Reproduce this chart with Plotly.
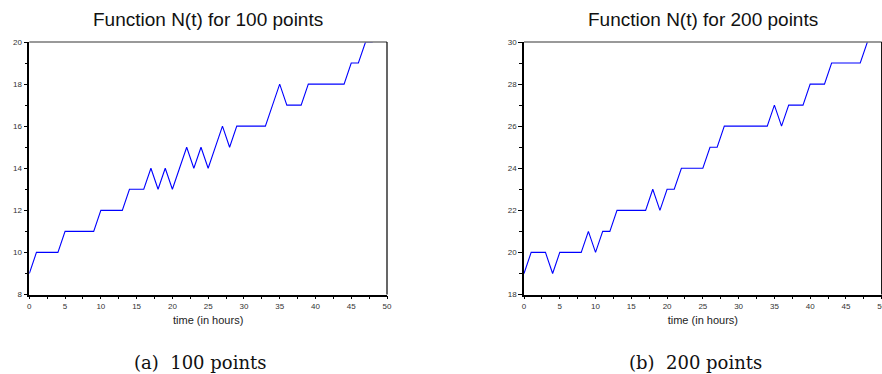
import plotly.graph_objects as go

# Data
t_a = list(range(0, 49))
n_a = [9, 10, 10, 10, 10, 11, 11, 11, 11, 11, 12, 12, 12, 12, 13, 13, 13, 14, 13, 14,
       13, 14, 15, 14, 15, 14, 15, 16, 15, 16, 16, 16, 16, 16, 17, 18, 17, 17, 17, 18,
       18, 18, 18, 18, 18, 19, 19, 20, 20]
t_b = list(range(0, 49))
n_b = [19, 20, 20, 20, 19, 20, 20, 20, 20, 21, 20, 21, 21, 22, 22, 22, 22, 22, 23, 22,
       23, 23, 24, 24, 24, 24, 25, 25, 26, 26, 26, 26, 26, 26, 26, 27, 26, 27, 27, 27,
       28, 28, 28, 29, 29, 29, 29, 29, 30]

titles = ["Function N(t) for 100 points", "Function N(t) for 200 points"]
captions = ["(a)  100 points", "(b)  200 points"]
x_label = "time (in hours)"
x_ticks = [0, 5, 10, 15, 20, 25, 30, 35, 40, 45, 50]
y_ticks_a = [8, 10, 12, 14, 16, 18, 20]
y_ticks_b = [18, 20, 22, 24, 26, 28, 30]

W, H = 882, 374
fig = go.Figure()
fig.add_trace(go.Scatter(x=t_a, y=n_a, mode="lines", line=dict(color="#0000ff", width=1.1),
                         xaxis="x", yaxis="y", showlegend=False))
fig.add_trace(go.Scatter(x=t_b, y=n_b, mode="lines", line=dict(color="#0000ff", width=1.1),
                         xaxis="x2", yaxis="y2", showlegend=False))

ydom = [1 - 294.5 / H, 1 - 42 / H]
xdom_a = [29.3 / W, 387 / W]
xdom_b = [524 / W, 881.7 / W]

tickfont = dict(family="Liberation Sans, Arial, sans-serif", size=8, color="#333333")
titlefont = dict(family="Liberation Sans, Arial, sans-serif", size=11, color="#222222")

def xax(dom, anchor):
    return dict(domain=dom, anchor=anchor, range=[0, 50], tickvals=x_ticks,
                ticks="outside", ticklen=3, tickwidth=1, tickcolor="black",
                minor=dict(dtick=2.5, tick0=0, ticks="outside", ticklen=3, tickcolor="black", showgrid=False),
                showline=True, linecolor="black", linewidth=1.5, showgrid=False, zeroline=False,
                tickfont=tickfont, ticklabeloverflow="allow",
                title=dict(text=x_label, font=titlefont, standoff=6),
                automargin=False, fixedrange=True)

def yax(dom, anchor, rng, ticks):
    return dict(domain=dom, anchor=anchor, range=rng, tickvals=ticks,
                ticks="outside", ticklen=4, tickwidth=1, tickcolor="black",
                minor=dict(dtick=1, tick0=0, ticks="outside", ticklen=3, tickcolor="black", showgrid=False),
                showline=True, linecolor="black", linewidth=1.5, showgrid=False, zeroline=False,
                tickfont=tickfont, automargin=False, fixedrange=True)

fig.update_layout(
    width=W, height=H, margin=dict(l=0, r=0, t=0, b=0),
    paper_bgcolor="white", plot_bgcolor="white",
    xaxis=xax(xdom_a, "y"), yaxis=yax(ydom, "x", [8, 20], y_ticks_a),
    xaxis2=xax(xdom_b, "y2"), yaxis2=yax(ydom, "x2", [18, 30], y_ticks_b),
)

shapes = []
for xr, yr in [("x", "y"), ("x2", "y2")]:
    shapes.append(dict(type="line", xref=xr + " domain", yref=yr + " domain", x0=0, x1=1, y0=1, y1=1,
                       line=dict(color="#777777", width=1.5)))
    shapes.append(dict(type="line", xref=xr + " domain", yref=yr + " domain", x0=1, x1=1, y0=0, y1=1,
                       line=dict(color="black", width=1.2)))
fig.update_layout(shapes=shapes)

annos = []
for i, dom in enumerate([xdom_a, xdom_b]):
    annos.append(dict(text=titles[i], xref="paper", yref="paper", x=(dom[0] + dom[1]) / 2,
                      y=1 - 20 / H, xanchor="center", yanchor="middle", showarrow=False,
                      font=dict(family="Liberation Sans, Arial, sans-serif", size=19, color="#111111")))
cap_x = [200 / W, 695 / W]
for i in range(2):
    annos.append(dict(text=captions[i], xref="paper", yref="paper", x=cap_x[i],
                      y=1 - 362 / H, xanchor="center", yanchor="middle", showarrow=False,
                      font=dict(family="DejaVu Serif, serif", size=18, color="#111111")))
fig.update_layout(annotations=annos)

fig.write_html("out.html", config={"displayModeBar": False},
               post_script="document.body.style.margin='0px';document.body.style.overflow='hidden';")
